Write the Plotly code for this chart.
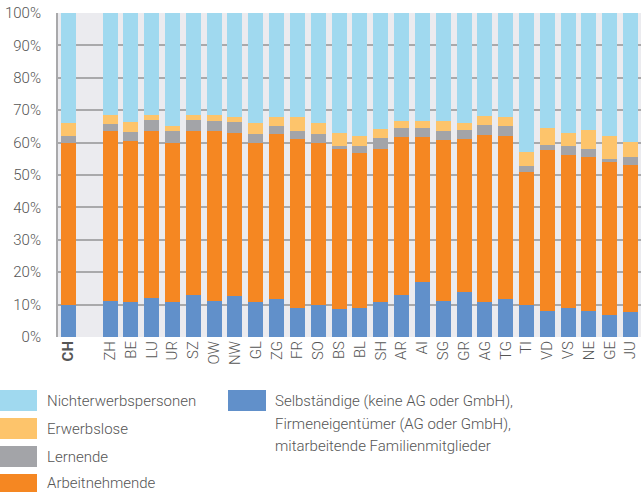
import plotly.graph_objects as go

categories = ["CH", " ", "ZH", "BE", "LU", "UR", "SZ", "OW", "NW", "GL", "ZG", "FR", "SO",
              "BS", "BL", "SH", "AR", "AI", "SG", "GR", "AG", "TG", "TI", "VD", "VS", "NE", "GE", "JU"]
tick_labels = ["<b>CH</b>", " ", "ZH", "BE", "LU", "UR", "SZ", "OW", "NW", "GL", "ZG", "FR", "SO",
               "BS", "BL", "SH", "AR", "AI", "SG", "GR", "AG", "TG", "TI", "VD", "VS", "NE", "GE", "JU"]

selbstaendige = [10.0, None, 11.1, 10.8, 12.1, 10.8, 12.9, 11.1, 12.7, 10.8, 11.8, 9.0, 9.8,
                 8.7, 9.0, 10.8, 13.0, 17.1, 11.1, 14.0, 10.8, 11.8, 9.9, 8.0, 9.0, 8.0, 6.8, 7.7]
arbeitnehmende = [49.8, None, 52.5, 49.6, 51.6, 49.2, 50.8, 52.4, 50.4, 49.2, 51.0, 52.0, 50.2,
                  49.2, 47.9, 47.3, 48.7, 44.6, 49.6, 47.1, 51.4, 50.1, 40.9, 49.6, 47.1, 47.7, 47.1, 45.3]
lernende = [2.1, None, 2.0, 2.8, 3.2, 3.7, 3.2, 3.1, 3.2, 2.8, 2.2, 2.7, 2.8,
            0.9, 1.9, 3.2, 2.7, 2.7, 2.8, 2.7, 3.1, 3.1, 2.1, 1.8, 2.7, 2.2, 0.9, 2.7]
erwerbslose = [4.0, None, 3.0, 3.1, 1.7, 1.3, 1.7, 2.0, 1.7, 3.1, 2.8, 4.1, 3.1,
               4.1, 3.1, 2.9, 2.3, 2.3, 3.2, 2.2, 2.8, 2.9, 4.1, 5.0, 4.1, 5.9, 7.1, 4.4]
nichterwerbspersonen = [34.1, None, 31.4, 33.7, 31.4, 35.0, 31.4, 31.4, 32.0, 34.1, 32.2, 32.2, 34.1,
                        37.1, 38.1, 35.8, 33.3, 33.3, 33.3, 34.0, 31.9, 32.1, 43.0, 35.6, 37.1, 36.2, 38.1, 39.9]

selb_lines = ["Selbständige (keine AG oder GmbH),",
              "Firmeneigentümer (AG oder GmbH),",
              "mitarbeitende Familienmitglieder"]

series = [
    ("<br>".join(selb_lines), selbstaendige, "#6190ca"),
    ("Arbeitnehmende", arbeitnehmende, "#f58722"),
    ("Lernende", lernende, "#a3a4a8"),
    ("Erwerbslose", erwerbslose, "#fdc46b"),
    ("Nichterwerbspersonen", nichterwerbspersonen, "#a0d9ef"),
]

fig = go.Figure()
for name, vals, col in series:
    fig.add_trace(go.Bar(x=categories, y=vals, name=name, marker_color=col,
                         marker_line_width=0, showlegend=False))

FONT = "Roboto"
ML, MT, MB = 58, 13, 155
PW, PH = 641 - ML, 492 - MT - MB

fig.update_layout(
    width=641, height=492,
    margin=dict(l=ML, r=0, t=MT, b=MB, autoexpand=False),
    barmode="stack", bargap=0.28,
    plot_bgcolor="#ebebef", paper_bgcolor="white",
    font=dict(family=FONT, color="#555555", size=15),
    xaxis=dict(type="category", tickmode="array", tickvals=categories, ticktext=tick_labels,
               tickangle=-90, showgrid=False, showline=False, zeroline=False,
               ticks="", tickfont=dict(size=15, color="#555555", weight=300),
               range=[-0.5, len(categories) - 0.5], automargin=False),
    yaxis=dict(range=[0, 100], tickvals=[0, 10, 20, 30, 40, 50, 60, 70, 80, 90, 100],
               ticktext=[f"{v}%" for v in range(0, 101, 10)],
               showgrid=True, gridcolor="#a9a9ab", gridwidth=2,
               showline=True, linecolor="#a9a9ab", linewidth=2,
               zeroline=False, ticks="", ticklabelstandoff=12, automargin=False,
               tickfont=dict(size=15, color="#555555", weight=300)),
)


def px_x(x):
    return (x - ML) / PW


def px_y(y):
    return (492 - MB - y) / PH


# Custom legend (two columns with large swatches)
legend_left = [("Nichterwerbspersonen", "#a0d9ef"), ("Erwerbslose", "#fdc46b"),
               ("Lernende", "#a3a4a8"), ("Arbeitnehmende", "#f58722")]
for i, (txt, col) in enumerate(legend_left):
    y_top = 390 + i * 28
    fig.add_shape(type="rect", xref="paper", yref="paper",
                  x0=px_x(0), x1=px_x(37), y0=px_y(y_top + 21), y1=px_y(y_top),
                  fillcolor=col, line_width=0)
    y_txt = min(y_top + 11, 483)
    fig.add_annotation(xref="paper", yref="paper", x=px_x(46), y=px_y(y_txt),
                       text=txt, showarrow=False, xanchor="left", yanchor="middle",
                       borderpad=0,
                       font=dict(size=15, color="#555555", family=FONT, weight=300))

fig.add_shape(type="rect", xref="paper", yref="paper",
              x0=px_x(228), x1=px_x(266), y0=px_y(411), y1=px_y(390),
              fillcolor="#6190ca", line_width=0)
for j, line in enumerate(selb_lines):
    fig.add_annotation(xref="paper", yref="paper", x=px_x(274), y=px_y(401 + j * 22.5),
                       text=line, showarrow=False,
                       xanchor="left", yanchor="middle", align="left", borderpad=0,
                       font=dict(size=15, color="#555555", family=FONT, weight=300))

fig.write_html("out.html", config={"displayModeBar": False},
               post_script="document.body.style.margin='0';")
